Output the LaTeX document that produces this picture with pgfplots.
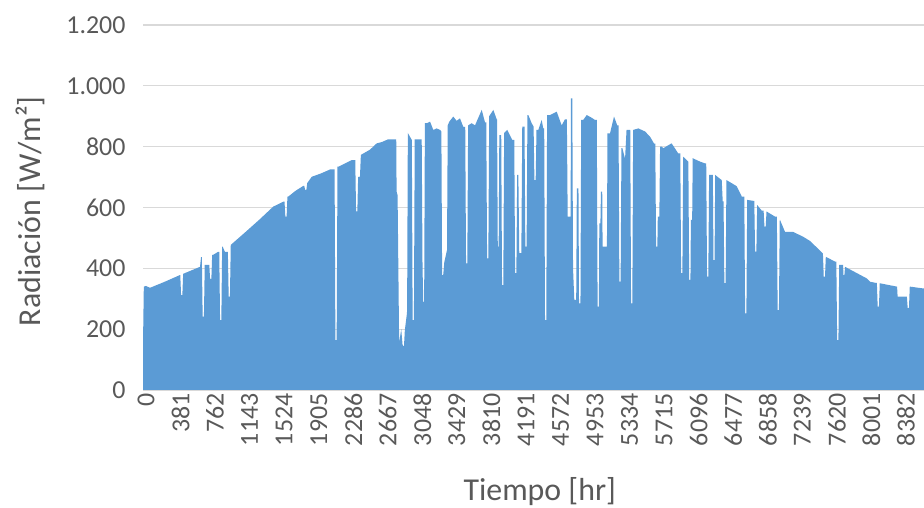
\documentclass[border=0pt]{standalone}
\usepackage{pgfplots}
\pgfplotsset{compat=1.18}
\usepackage{fontspec}
\setmainfont{Carlito}
\definecolor{areablue}{HTML}{5B9BD5}
\definecolor{txtgray}{HTML}{595959}
\definecolor{gridgray}{HTML}{D9D9D9}
\pgfplotstableread{
h v
-33 150
-24 340
0 342
44 336
200 355
375 378
378 378
387 312
401 312
410 382
596 405
607 437
616 437
625 241
639 241
648 411
698 411
707 365
721 365
730 444
739 444
794 454
808 454
817 230
831 230
840 471
846 471
871 454
903 454
912 307
926 307
935 477
1100 520
1250 560
1404 603
1514 619
1528 619
1537 570
1551 570
1560 636
1570 636
1650 655
1735 671
1746 671
1755 658
1769 658
1778 680
1828 701
1930 712
2030 725
2080 725
2089 164
2103 164
2112 734
2121 734
2269 756
2308 756
2317 587
2331 587
2340 701
2360 701
2370 773
2470 790
2545 811
2600 815
2669 824
2746 824
2760 824
2764 652
2775 640
2792 155
2815 200
2830 148
2845 142
2855 197
2876 247
2880 260
2888 845
2932 822
2941 230
2955 230
2964 824
3041 824
3050 405
3058 290
3068 290
3076 877
3099 877
3133 882
3169 855
3206 860
3243 855
3258 850
3266 378
3278 378
3290 420
3320 460
3328 870
3345 882
3389 899
3426 885
3463 893
3500 865
3521 865
3530 416
3544 416
3553 870
3592 877
3629 870
3703 921
3739 880
3753 880
3762 433
3776 433
3785 900
3831 921
3868 890
3872 890
3880 471
3890 471
3897 838
3918 838
3927 345
3941 345
3950 845
3985 855
4040 822
4062 822
4071 384
4085 384
4094 707
4107 707
4117 450
4140 450
4150 866
4175 866
4184 471
4198 471
4207 904
4217 904
4254 877
4275 866
4284 690
4298 690
4307 855
4327 855
4364 888
4382 860
4392 860
4401 230
4415 230
4424 904
4456 904
4530 915
4585 870
4621 890
4642 890
4651 570
4684 570
4686 959
4702 959
4710 400
4724 296
4745 296
4752 663
4770 663
4776 285
4792 285
4800 888
4823 888
4861 904
4916 895
4951 888
4972 888
4981 274
4995 274
5000 548
5012 548
5018 652
5032 652
5036 471
5084 471
5090 844
5118 844
5162 899
5198 870
5212 870
5221 356
5235 356
5244 795
5254 795
5284 760
5300 855
5341 855
5350 285
5364 285
5373 855
5430 860
5504 850
5559 833
5604 810
5617 810
5626 471
5640 471
5645 570
5662 570
5670 800
5688 800
5706 795
5797 811
5870 778
5893 778
5902 384
5916 384
5925 767
5979 751
5982 751
5991 362
6005 362
6010 559
6024 559
6030 762
6110 751
6165 745
6179 745
6188 373
6202 373
6211 707
6252 707
6259 427
6271 427
6278 707
6350 690
6361 620
6370 620
6379 351
6393 351
6402 690
6460 680
6515 670
6571 636
6599 636
6608 252
6622 252
6631 625
6695 622
6709 622
6718 455
6732 455
6741 608
6791 590
6812 590
6821 537
6835 537
6844 587
6938 570
6958 570
6967 263
6981 263
6990 559
6993 559
7048 520
7136 520
7247 504
7324 490
7466 449
7475 373
7489 373
7498 438
7600 422
7614 422
7623 164
7637 164
7646 411
7688 411
7693 378
7703 378
7710 405
7949 367
7986 356
8052 352
8061 352
8070 274
8084 274
8093 351
8280 340
8284 340
8290 307
8392 307
8401 269
8415 269
8424 340
8570 334
8650 334
}\radtable
\begin{document}
\begin{tikzpicture}
\begin{axis}[
  at={(143bp,118bp)}, anchor=south west,
  scale only axis, width=781bp, height=365bp,
  xmin=-33, xmax=8581, ymin=0, ymax=1200,
  axis line style={draw=none},
  major tick length=0pt,
  ytick={0,200,...,1200},
  xtick={0,381,...,8382},
  ymajorgrids, grid style={gridgray, line width=1.1bp},
  yticklabel={\pgfmathprintnumber[1000 sep={.},assume math mode=true]{\tick}},
  xticklabel={\pgfmathprintnumber[1000 sep={},assume math mode=true]{\tick}},
  ticklabel style={font=\fontsize{26}{26}\selectfont, text=txtgray},
  yticklabel style={xshift=-14bp},
  xticklabel style={rotate=90, anchor=east},
  xlabel={Tiempo [hr]},
  ylabel={Radiación [W/m²]},
  label style={font=\fontsize{32}{32}\selectfont, text=txtgray},
  xlabel style={at={(axis description cs:0.508,-0.279)}, anchor=center},
  ylabel style={at={(axis description cs:-0.1447,0.49)}, anchor=center},
]
\addplot[fill=areablue, draw=none] table[x=h, y=v] {\radtable} \closedcycle;
\end{axis}
\pgfresetboundingbox
\path[use as bounding box] (0,0) rectangle (924bp,508bp);
\end{tikzpicture}
\end{document}
